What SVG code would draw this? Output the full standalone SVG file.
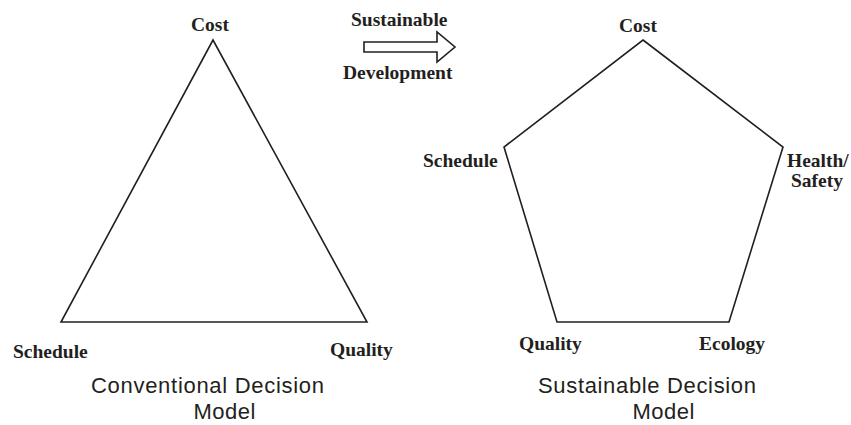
<svg xmlns="http://www.w3.org/2000/svg" width="851" height="425" viewBox="0 0 851 425">
  <style>
    .shape { fill: none; stroke: #231f20; stroke-width: 1.6; stroke-linejoin: miter; }
    .lbl { font-family: "Liberation Serif", "Times New Roman", serif; font-weight: bold; font-size: 19.5px; fill: #231f20; }
    .cap { font-family: "Liberation Sans", Arial, sans-serif; font-size: 22px; fill: #231f20; text-anchor: middle; }
  </style>
  <rect width="851" height="425" fill="#ffffff"/>

  <!-- Conventional model: triangle -->
  <g id="triangle">
    <polygon class="shape" points="213,40 61,322 367,322"/>
  </g>
  <g id="tri-cost"><text class="lbl" x="191" y="31">Cost</text></g>
  <g id="tri-schedule"><text class="lbl" x="13" y="358">Schedule</text></g>
  <g id="tri-quality"><text class="lbl" x="330" y="356">Quality</text></g>
  <g id="tri-caption">
    <text class="cap" x="207.5" y="393" textLength="233">Conventional Decision</text>
    <text class="cap" x="224.5" y="419" textLength="62">Model</text>
  </g>

  <!-- Transition arrow -->
  <g id="transition">
    <text class="lbl" x="351" y="26">Sustainable</text>
    <polygon class="shape" stroke-width="1.2" points="364,42 437,42 437,32 455,47 437,62 437,52 364,52"/>
    <text class="lbl" x="343" y="79">Development</text>
  </g>

  <!-- Sustainable model: pentagon -->
  <g id="pentagon">
    <polygon class="shape" points="643,40 783,147 729,322 557,322 504,147"/>
  </g>
  <g id="pen-cost"><text class="lbl" x="619" y="32">Cost</text></g>
  <g id="pen-health"><text class="lbl" x="787" y="167">Health/</text><text class="lbl" x="791" y="187">Safety</text></g>
  <g id="pen-ecology"><text class="lbl" x="699" y="350">Ecology</text></g>
  <g id="pen-quality"><text class="lbl" x="519" y="350">Quality</text></g>
  <g id="pen-schedule"><text class="lbl" x="423" y="167">Schedule</text></g>
  <g id="pen-caption">
    <text class="cap" x="647" y="393" textLength="218">Sustainable Decision</text>
    <text class="cap" x="663.5" y="419" textLength="62">Model</text>
  </g>
</svg>
